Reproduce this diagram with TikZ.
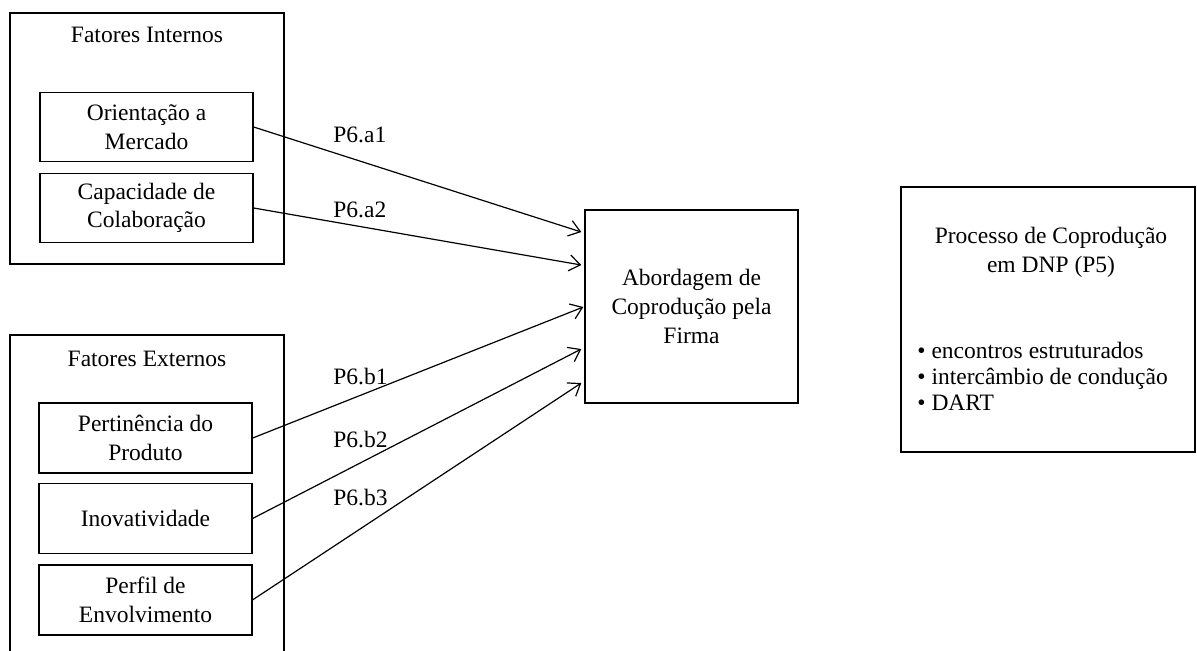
\documentclass[tikz,border=0pt]{standalone}
\usepackage{fontspec}
\setmainfont{Liberation Serif}
\usepackage{tikz}
\usetikzlibrary{arrows.meta,positioning,calc}
\tikzset{
  frame/.style={draw, line width=0.7pt, minimum width=137pt, inner sep=0pt},
  item/.style={draw, line width=0.7pt, align=center, minimum width=106.5pt, minimum height=34.5pt, inner sep=2pt},
  heading/.style={align=center, inner sep=0pt},
  line/.style={-{Straight Barb[length=5.5pt,width=8pt]}, line width=0.6pt},
  tag/.style={anchor=west, inner sep=0pt}
}

\begin{document}
\begin{tikzpicture}[x=0.5pt, y=-0.5pt, font=\fontsize{11.75}{14.2}\selectfont]
  \clip (0,0) rectangle (1197,650);

  % Fatores Internos
  \node[frame, minimum height=125.5pt] (intern) at (147,138.5) {};
  \node[heading] (interntitle) at (147,35) {Fatores Internos};
  \node[item] (orient) at (146.5,127) {Orientação a\\Mercado};
  \node[item, below=5.3pt of orient] (colab) {Capacidade de\\Colaboração};

  % Fatores Externos
  \node[frame, minimum height=162.5pt] (extern) at (147,497.5) {};
  \node[heading] (externtitle) at (147,359) {Fatores Externos};
  \node[item, minimum height=35pt] (pert) at (145.5,438) {Pertinência do\\Produto};
  \node[item, minimum height=35pt, below=4.5pt of pert] (inov) {Inovatividade};
  \node[item, minimum height=35pt, below=5pt of inov] (perfil) {Perfil de\\Envolvimento};

  % Firma
  \node[item, minimum height=96.5pt, font=\fontsize{11.75}{14.5}\selectfont] (abord) at (691.5,306.5) {Abordagem de\\Coprodução pela\\Firma};

  % Processo (P5)
  \node[frame, minimum width=147pt, minimum height=132.5pt] (proc) at (1048,319.5) {};
  \node[heading] (proctitle) at (1051,252.5) {Processo de Coprodução\\em DNP (P5)};
  \node[heading, align=left, anchor=west, font=\fontsize{11.75}{13}\selectfont] (proclist) at (917,376) {• encontros estruturados\\• intercâmbio de condução\\• DART};

  \draw[line] (orient.east) -- ($(abord.west)+(-3,-74.5)$);
  \draw[line] (colab.east) -- ($(abord.west)+(-3,-41.5)$);
  \draw[line] (pert.east) -- ($(abord.west)+(-1,0.5)$);
  \draw[line] (inov.east) -- ($(abord.west)+(-3,42.5)$);
  \draw[line] (perfil.east) -- ($(abord.west)+(-3,76.5)$);

  % propositions
  \node[tag] (pa1) at (333,135) {P6.a1};
  \node[tag] (pa2) at (333,210) {P6.a2};
  \node[tag] (pb1) at (333,376) {P6.b1};
  \node[tag] (pb2) at (333,439) {P6.b2};
  \node[tag] (pb3) at (333,497) {P6.b3};
\end{tikzpicture}
\end{document}
